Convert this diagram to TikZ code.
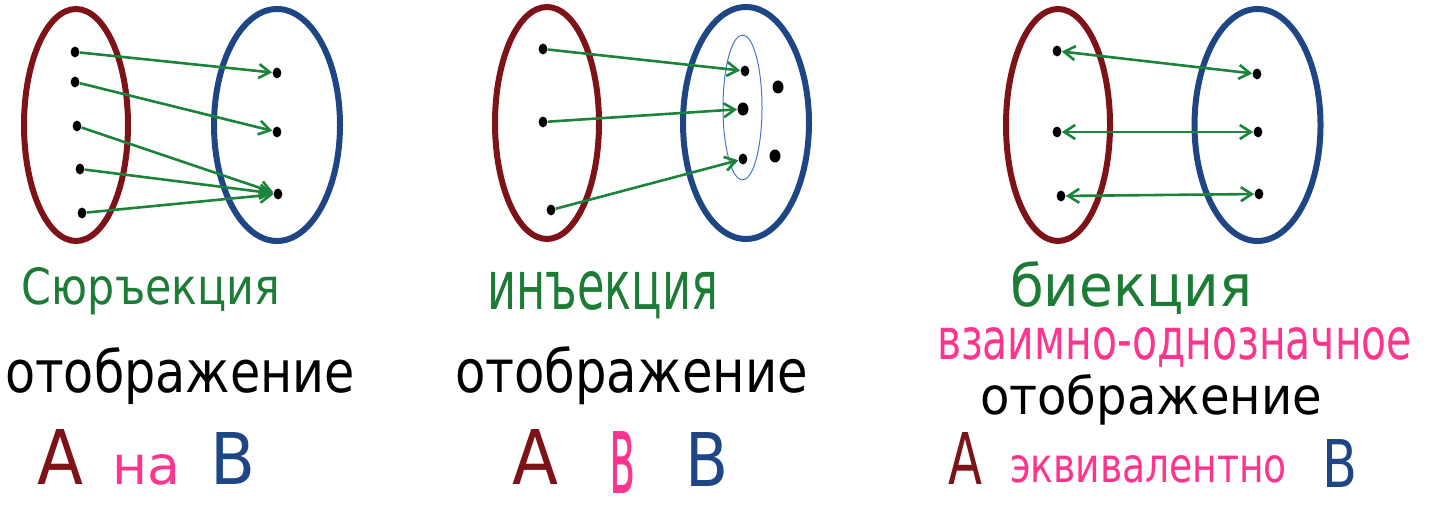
\documentclass[tikz,border=0pt]{standalone}
\usepackage{fontspec}
\setmainfont{DejaVu Sans}
\usepackage{graphicx}
\usetikzlibrary{arrows.meta,shapes.geometric}
\newlength\pxu
\setlength\pxu{0.5pt}
\newcommand{\fitbox}[3]{\resizebox{#1\pxu}{#2\pxu}{#3}}
\definecolor{setred}{RGB}{125,18,24}
\definecolor{setblue}{RGB}{30,70,132}
\definecolor{arrgreen}{RGB}{28,132,58}
\definecolor{txtgreen}{RGB}{28,124,54}
\definecolor{pinkc}{RGB}{255,52,140}
\definecolor{innerblue}{RGB}{70,115,210}
\tikzset{
  setA/.style={draw=setred, line width=3pt, ellipse, inner sep=0pt, minimum width=52pt, minimum height=116pt},
  setB/.style={draw=setblue, line width=3pt, ellipse, inner sep=0pt, minimum width=63pt, minimum height=116pt},
  subset/.style={draw=innerblue, line width=0.5pt, ellipse, inner sep=0pt, minimum width=19.5pt, minimum height=72.5pt},
  dot/.style={fill=black, ellipse, inner sep=0pt, minimum width=4.4pt, minimum height=5.4pt},
  bigdot/.style={fill=black, ellipse, inner sep=0pt, minimum width=5.5pt, minimum height=6.5pt},
  map/.style={draw=arrgreen, line width=1.3pt, -{Straight Barb[length=5.5pt,width=7pt,line width=1.3pt]}},
  bimap/.style={draw=arrgreen, line width=1.3pt, {Straight Barb[length=5.5pt,width=7pt,line width=1.3pt]}-{Straight Barb[length=5.5pt,width=7pt,line width=1.3pt]}},
  lbl/.style={anchor=base west, inner sep=0pt, outer sep=0pt}
}
\begin{document}
\begin{tikzpicture}[x=0.5pt, y=-0.5pt]
\useasboundingbox (0,0) rectangle (1440,506);
% ---------- panel 1: surjection ----------
\node[setA] (A1) at (76,125) {};
\node[setB] (B1) at (277,125) {};
\node[dot] (p1a1) at (75,52) {};
\node[dot] (p1a2) at (75,82) {};
\node[dot] (p1a3) at (77,126) {};
\node[dot] (p1a4) at (80,169) {};
\node[dot] (p1a5) at (82,213) {};
\node[dot] (p1b1) at (277,73) {};
\node[dot] (p1b2) at (277,132) {};
\node[dot] (p1b3) at (278,194) {};
\draw[map] (p1a1) -- (p1b1);
\draw[map] (p1a2) -- (p1b2);
\draw[map] (p1a3) -- (p1b3);
\draw[map] (p1a4) -- (p1b3);
\draw[map] (p1a5) -- (p1b3);
\node[lbl, text=txtgreen] (t1) at (22,305) {\fitbox{258}{37}{Сюръекция}};
\node[lbl] (t2) at (5,393) {\fitbox{350}{45}{отображение}};
\node[lbl, text=setred] (t3) at (38,485) {\fitbox{46}{55}{А}};
\node[lbl, text=pinkc] (t4) at (112,485) {\fitbox{68}{30}{на}};
\node[lbl, text=setblue] (t5) at (210,485) {\fitbox{45}{52}{В}};
% ---------- panel 2: injection ----------
\node[setA] (A2) at (547,123) {};
\node[setB] (B2) at (746,123) {};
\node[subset] (S2) at (742.5,107.5) {};
\node[dot] (p2a1) at (543,49) {};
\node[dot] (p2a2) at (543,122) {};
\node[dot] (p2a3) at (551,210) {};
\node[dot] (p2b1) at (745,71) {};
\node[bigdot] (p2b2) at (743,109) {};
\node[dot] (p2b3) at (743,159) {};
\node[bigdot] (p2c1) at (778,87) {};
\node[bigdot] (p2c2) at (775,156) {};
\draw[map] (p2a1) -- (p2b1);
\draw[map] (p2a2) -- (p2b2);
\draw[map] (p2a3) -- (p2b3);
\node[lbl, text=txtgreen] (t6) at (487,310) {\fitbox{231}{38}{инъекция}};
\node[lbl] (t7) at (455,393) {\fitbox{353}{46}{отображение}};
\node[lbl, text=setred] (t8) at (512,485) {\fitbox{46}{55}{А}};
\node[lbl, text=pinkc, inner sep=1.5pt] (t9) at (606,494) {\fitbox{26}{62}{в}};
\node[lbl, text=setblue] (t10) at (685,487) {\fitbox{43}{54}{В}};
% ---------- panel 3: bijection ----------
\node[setA] (A3) at (1058,125) {};
\node[setB] (B3) at (1257.5,125) {};
\node[dot] (p3a1) at (1057,51) {};
\node[dot] (p3a2) at (1057,132) {};
\node[dot] (p3a3) at (1061,196) {};
\node[dot] (p3b1) at (1257,74) {};
\node[dot] (p3b2) at (1258,132) {};
\node[dot] (p3b3) at (1259,194) {};
\draw[bimap] (p3a1) -- (p3b1);
\draw[bimap] (p3a2) -- (p3b2);
\draw[bimap] (p3a3) -- (p3b3);
\node[lbl, text=txtgreen] (t11) at (1010,307) {\fitbox{242}{45}{биекция}};
\node[lbl, text=pinkc] (t12) at (937,360) {\fitbox{475}{32}{взаимно-однозначное}};
\node[lbl] (t13) at (980,415) {\fitbox{342}{40}{отображение}};
\node[lbl, text=setred] (t14) at (948,485) {\fitbox{34}{52}{А}};
\node[lbl, text=pinkc] (t15) at (1010,483) {\fitbox{277}{27}{эквивалентно}};
\node[lbl, text=setblue] (t16) at (1322,488) {\fitbox{35}{48}{В}};
\end{tikzpicture}
\end{document}
